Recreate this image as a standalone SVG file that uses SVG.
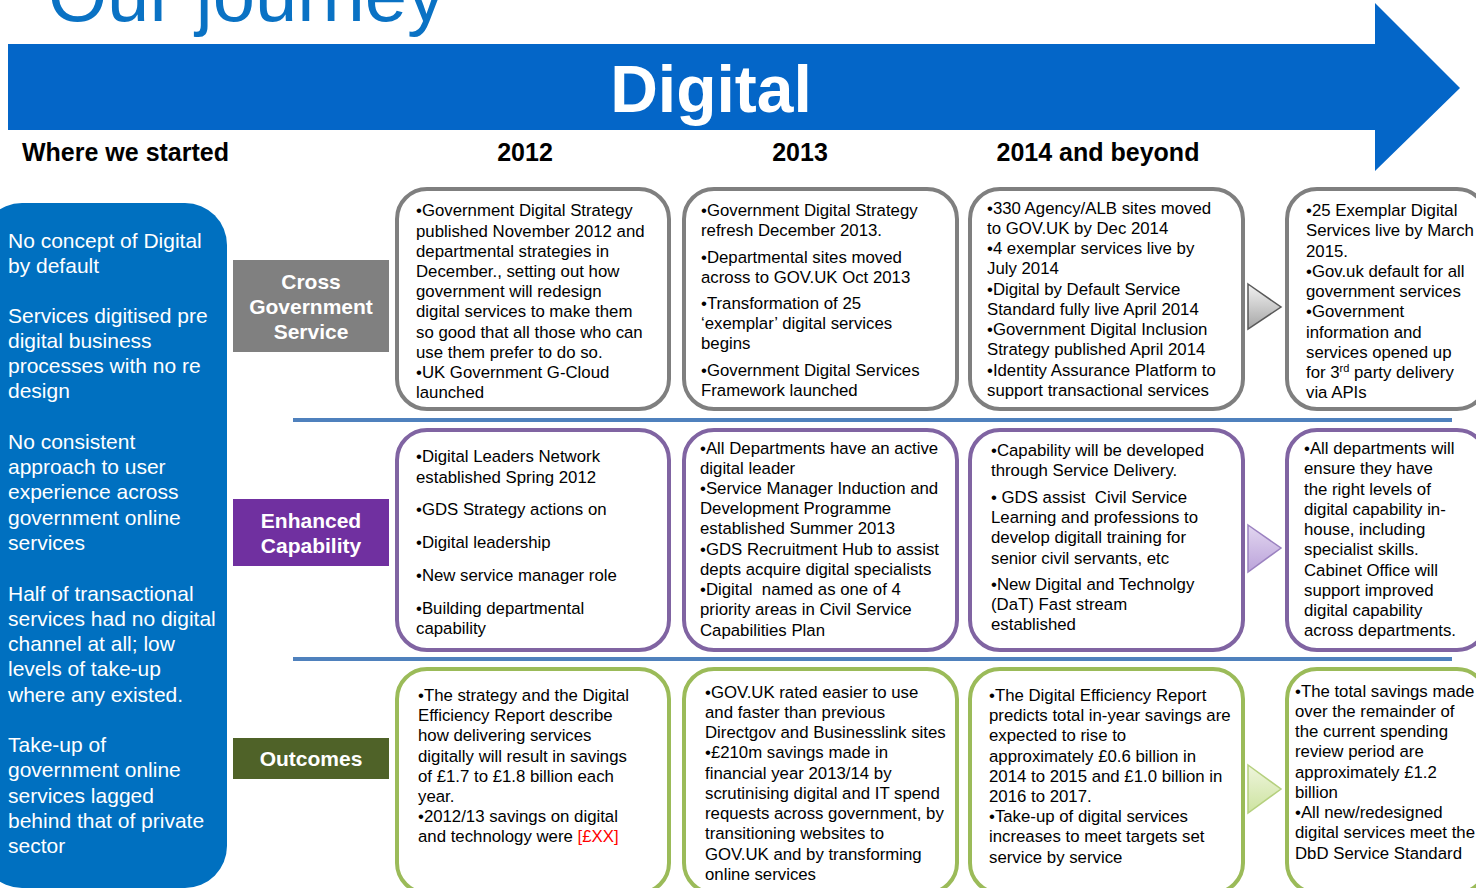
<svg xmlns="http://www.w3.org/2000/svg" width="1476" height="888" viewBox="0 0 1476 888">
  <style>
    .title { font-family: "Liberation Sans", Arial, sans-serif; font-size: 76px; fill: #0A72C4; }
    .banner { font-family: "Liberation Sans", Arial, sans-serif; font-size: 66px; font-weight: bold; fill: #ffffff; }
    .head { font-family: "Liberation Sans", Arial, sans-serif; font-size: 25px; font-weight: bold; fill: #000000; }
    .start { font-family: "Liberation Sans", Arial, sans-serif; font-size: 21px; fill: #ffffff; }
    .cat { font-family: "Liberation Sans", Arial, sans-serif; font-size: 21px; font-weight: bold; fill: #ffffff; text-anchor: middle; }
    .body { font-family: "Liberation Sans", Arial, sans-serif; font-size: 16.8px; fill: #000000; }
    .red { fill: #FF0000; }
    .box { fill: #ffffff; stroke-width: 4; }
    .gray { stroke: #7F7F7F; }
    .purple { stroke: #8064A2; }
    .green { stroke: #9BBB59; }
    .sep { stroke: #4F81BD; stroke-width: 4; }
  </style>
  <defs>
    <linearGradient id="gGray" x1="0" y1="0" x2="0" y2="1">
      <stop offset="0" stop-color="#F2F2F2"/>
      <stop offset="1" stop-color="#A6A6A6"/>
    </linearGradient>
    <linearGradient id="gPurple" x1="0" y1="0" x2="0" y2="1">
      <stop offset="0" stop-color="#E2D6F0"/>
      <stop offset="1" stop-color="#BBA3DA"/>
    </linearGradient>
    <linearGradient id="gGreen" x1="0" y1="0" x2="0" y2="1">
      <stop offset="0" stop-color="#EEF5DC"/>
      <stop offset="1" stop-color="#CDE3A0"/>
    </linearGradient>
  </defs>

  <!-- Page title -->
  <text class="title" x="48" y="21">Our journey</text>

  <!-- Banner arrow -->
  <g id="banner">
    <polygon points="8,44 1375,44 1375,3 1460,88 1375,171 1375,130 8,130" fill="#0466C8"/>
    <text class="banner" x="711" y="112" text-anchor="middle">Digital</text>
  </g>

  <!-- Column headings -->
  <g id="headings">
    <text class="head" x="22" y="161">Where we started</text>
    <text class="head" x="525" y="161" text-anchor="middle">2012</text>
    <text class="head" x="800" y="161" text-anchor="middle">2013</text>
    <text class="head" x="1098" y="161" text-anchor="middle">2014 and beyond</text>
  </g>

  <!-- Starting point panel -->
  <g id="start-panel">
    <rect x="-20" y="203" width="247" height="685" rx="42" fill="#0070C0"/>
    <text class="start" x="8" y="248">No concept of Digital</text>
    <text class="start" x="8" y="273">by default</text>
    <text class="start" x="8" y="323">Services digitised pre</text>
    <text class="start" x="8" y="348">digital business</text>
    <text class="start" x="8" y="373">processes with no re</text>
    <text class="start" x="8" y="398">design</text>
    <text class="start" x="8" y="449">No consistent</text>
    <text class="start" x="8" y="474">approach to user</text>
    <text class="start" x="8" y="499">experience across</text>
    <text class="start" x="8" y="525">government online</text>
    <text class="start" x="8" y="550">services</text>
    <text class="start" x="8" y="601">Half of transactional</text>
    <text class="start" x="8" y="626">services had no digital</text>
    <text class="start" x="8" y="651">channel at all; low</text>
    <text class="start" x="8" y="676">levels of take-up</text>
    <text class="start" x="8" y="702">where any existed.</text>
    <text class="start" x="8" y="752">Take-up of</text>
    <text class="start" x="8" y="777">government online</text>
    <text class="start" x="8" y="803">services lagged</text>
    <text class="start" x="8" y="828">behind that of private</text>
    <text class="start" x="8" y="853">sector</text>
  </g>

  <!-- Row labels -->
  <g id="label-cross-government">
    <rect x="233" y="260" width="156" height="92" fill="#808080"/>
    <text class="cat" x="311" y="289">Cross</text>
    <text class="cat" x="311" y="314">Government</text>
    <text class="cat" x="311" y="339">Service</text>
  </g>
  <g id="label-enhanced-capability">
    <rect x="233" y="499" width="156" height="67" fill="#7030A0"/>
    <text class="cat" x="311" y="528">Enhanced</text>
    <text class="cat" x="311" y="553">Capability</text>
  </g>
  <g id="label-outcomes">
    <rect x="233" y="738" width="156" height="41" fill="#4F6228"/>
    <text class="cat" x="311" y="766">Outcomes</text>
  </g>

  <!-- Row separators and progression arrows -->
  <g id="connectors">
    <line class="sep" x1="293" y1="420" x2="1452" y2="420"/>
    <line class="sep" x1="293" y1="659" x2="1452" y2="659"/>
    <polygon points="1248,284 1281,307 1248,329" fill="url(#gGray)" stroke="#595959" stroke-width="1.5"/>
    <polygon points="1248,525 1281,548 1248,572" fill="url(#gPurple)" stroke="#9B82C0" stroke-width="1.5"/>
    <polygon points="1248,765 1281,789 1248,813" fill="url(#gGreen)" stroke="#B5D07E" stroke-width="1.5"/>
  </g>

  <!-- Cross Government Service row -->
  <g id="cgs-2012">
    <rect class="box gray" x="397" y="189" width="272" height="220" rx="30"/>
    <text class="body" x="416" y="216">•Government Digital Strategy</text>
    <text class="body" x="416" y="237">published November 2012 and</text>
    <text class="body" x="416" y="257">departmental strategies in</text>
    <text class="body" x="416" y="277">December., setting out how</text>
    <text class="body" x="416" y="297">government will redesign</text>
    <text class="body" x="416" y="317">digital services to make them</text>
    <text class="body" x="416" y="338">so good that all those who can</text>
    <text class="body" x="416" y="358">use them prefer to do so.</text>
    <text class="body" x="416" y="378">•UK Government G-Cloud</text>
    <text class="body" x="416" y="398">launched</text>
  </g>
  <g id="cgs-2013">
    <rect class="box gray" x="684" y="189" width="273" height="220" rx="30"/>
    <text class="body" x="701" y="216">•Government Digital Strategy</text>
    <text class="body" x="701" y="236">refresh December 2013.</text>
    <text class="body" x="701" y="263">•Departmental sites moved</text>
    <text class="body" x="701" y="283">across to GOV.UK Oct 2013</text>
    <text class="body" x="701" y="309">•Transformation of 25</text>
    <text class="body" x="701" y="329">‘exemplar’ digital services</text>
    <text class="body" x="701" y="349">begins</text>
    <text class="body" x="701" y="376">•Government Digital Services</text>
    <text class="body" x="701" y="396">Framework launched</text>
  </g>
  <g id="cgs-2014">
    <rect class="box gray" x="970" y="189" width="273" height="220" rx="30"/>
    <text class="body" x="987" y="214">•330 Agency/ALB sites moved</text>
    <text class="body" x="987" y="234">to GOV.UK by Dec 2014</text>
    <text class="body" x="987" y="254">•4 exemplar services live by</text>
    <text class="body" x="987" y="274">July 2014</text>
    <text class="body" x="987" y="295">•Digital by Default Service</text>
    <text class="body" x="987" y="315">Standard fully live April 2014</text>
    <text class="body" x="987" y="335">•Government Digital Inclusion</text>
    <text class="body" x="987" y="355">Strategy published April 2014</text>
    <text class="body" x="987" y="376">•Identity Assurance Platform to</text>
    <text class="body" x="987" y="396">support transactional services</text>
  </g>
  <g id="cgs-beyond">
    <rect class="box gray" x="1287" y="189" width="200" height="220" rx="30"/>
    <text class="body" x="1306" y="216">•25 Exemplar Digital</text>
    <text class="body" x="1306" y="236">Services live by March</text>
    <text class="body" x="1306" y="257">2015.</text>
    <text class="body" x="1306" y="277">•Gov.uk default for all</text>
    <text class="body" x="1306" y="297">government services</text>
    <text class="body" x="1306" y="317">•Government</text>
    <text class="body" x="1306" y="338">information and</text>
    <text class="body" x="1306" y="358">services opened up</text>
    <text class="body" x="1306" y="378">for 3<tspan font-size="11" dy="-6">rd</tspan><tspan dy="6"> party delivery</tspan></text>
    <text class="body" x="1306" y="398">via APIs</text>
  </g>

  <!-- Enhanced Capability row -->
  <g id="ec-2012">
    <rect class="box purple" x="397" y="430" width="272" height="220" rx="30"/>
    <text class="body" x="416" y="462">•Digital Leaders Network</text>
    <text class="body" x="416" y="483">established Spring 2012</text>
    <text class="body" x="416" y="515">•GDS Strategy actions on</text>
    <text class="body" x="416" y="548">•Digital leadership</text>
    <text class="body" x="416" y="581">•New service manager role</text>
    <text class="body" x="416" y="614">•Building departmental</text>
    <text class="body" x="416" y="634">capability</text>
  </g>
  <g id="ec-2013">
    <rect class="box purple" x="684" y="430" width="273" height="220" rx="30"/>
    <text class="body" x="700" y="454">•All Departments have an active</text>
    <text class="body" x="700" y="474">digital leader</text>
    <text class="body" x="700" y="494">•Service Manager Induction and</text>
    <text class="body" x="700" y="514">Development Programme</text>
    <text class="body" x="700" y="534">established Summer 2013</text>
    <text class="body" x="700" y="555">•GDS Recruitment Hub to assist</text>
    <text class="body" x="700" y="575">depts acquire digital specialists</text>
    <text class="body" x="700" y="595" xml:space="preserve">•Digital  named as one of 4</text>
    <text class="body" x="700" y="615">priority areas in Civil Service</text>
    <text class="body" x="700" y="636">Capabilities Plan</text>
  </g>
  <g id="ec-2014">
    <rect class="box purple" x="970" y="430" width="273" height="220" rx="30"/>
    <text class="body" x="991" y="456">•Capability will be developed</text>
    <text class="body" x="991" y="476">through Service Delivery.</text>
    <text class="body" x="991" y="503" xml:space="preserve">• GDS assist  Civil Service</text>
    <text class="body" x="991" y="523">Learning and professions to</text>
    <text class="body" x="991" y="543">develop digitall training for</text>
    <text class="body" x="991" y="564">senior civil servants, etc</text>
    <text class="body" x="991" y="590">•New Digital and Technolgy</text>
    <text class="body" x="991" y="610">(DaT) Fast stream</text>
    <text class="body" x="991" y="630">established</text>
  </g>
  <g id="ec-beyond">
    <rect class="box purple" x="1287" y="430" width="200" height="220" rx="30"/>
    <text class="body" x="1304" y="454">•All departments will</text>
    <text class="body" x="1304" y="474">ensure they have</text>
    <text class="body" x="1304" y="495">the right levels of</text>
    <text class="body" x="1304" y="515">digital capability in-</text>
    <text class="body" x="1304" y="535">house, including</text>
    <text class="body" x="1304" y="555">specialist skills.</text>
    <text class="body" x="1304" y="576">Cabinet Office will</text>
    <text class="body" x="1304" y="596">support improved</text>
    <text class="body" x="1304" y="616">digital capability</text>
    <text class="body" x="1304" y="636">across departments.</text>
  </g>

  <!-- Outcomes row -->
  <g id="out-2012">
    <rect class="box green" x="397" y="669" width="272" height="224" rx="30"/>
    <text class="body" x="418" y="701">•The strategy and the Digital</text>
    <text class="body" x="418" y="721">Efficiency Report describe</text>
    <text class="body" x="418" y="741">how delivering services</text>
    <text class="body" x="418" y="762">digitally will result in savings</text>
    <text class="body" x="418" y="782">of £1.7 to £1.8 billion each</text>
    <text class="body" x="418" y="802">year.</text>
    <text class="body" x="418" y="822">•2012/13 savings on digital</text>
    <text class="body" x="418" y="842">and technology were <tspan class="red">[£XX]</tspan></text>
  </g>
  <g id="out-2013">
    <rect class="box green" x="684" y="669" width="273" height="224" rx="30"/>
    <text class="body" x="705" y="698">•GOV.UK rated easier to use</text>
    <text class="body" x="705" y="718">and faster than previous</text>
    <text class="body" x="705" y="738">Directgov and Businesslink sites</text>
    <text class="body" x="705" y="758">•£210m savings made in</text>
    <text class="body" x="705" y="779">financial year 2013/14 by</text>
    <text class="body" x="705" y="799">scrutinising digital and IT spend</text>
    <text class="body" x="705" y="819">requests across government, by</text>
    <text class="body" x="705" y="839">transitioning websites to</text>
    <text class="body" x="705" y="860">GOV.UK and by transforming</text>
    <text class="body" x="705" y="880">online services</text>
  </g>
  <g id="out-2014">
    <rect class="box green" x="970" y="669" width="273" height="224" rx="30"/>
    <text class="body" x="989" y="701">•The Digital Efficiency Report</text>
    <text class="body" x="989" y="721">predicts total in-year savings are</text>
    <text class="body" x="989" y="741">expected to rise to</text>
    <text class="body" x="989" y="762">approximately £0.6 billion in</text>
    <text class="body" x="989" y="782">2014 to 2015 and £1.0 billion in</text>
    <text class="body" x="989" y="802">2016 to 2017.</text>
    <text class="body" x="989" y="822">•Take-up of digital services</text>
    <text class="body" x="989" y="842">increases to meet targets set</text>
    <text class="body" x="989" y="863">service by service</text>
  </g>
  <g id="out-beyond">
    <rect class="box green" x="1287" y="669" width="200" height="224" rx="30"/>
    <text class="body" x="1295" y="697">•The total savings made</text>
    <text class="body" x="1295" y="717">over the remainder of</text>
    <text class="body" x="1295" y="737">the current spending</text>
    <text class="body" x="1295" y="757">review period are</text>
    <text class="body" x="1295" y="778">approximately £1.2</text>
    <text class="body" x="1295" y="798">billion</text>
    <text class="body" x="1295" y="818">•All new/redesigned</text>
    <text class="body" x="1295" y="838">digital services meet the</text>
    <text class="body" x="1295" y="859">DbD Service Standard</text>
  </g>
</svg>
